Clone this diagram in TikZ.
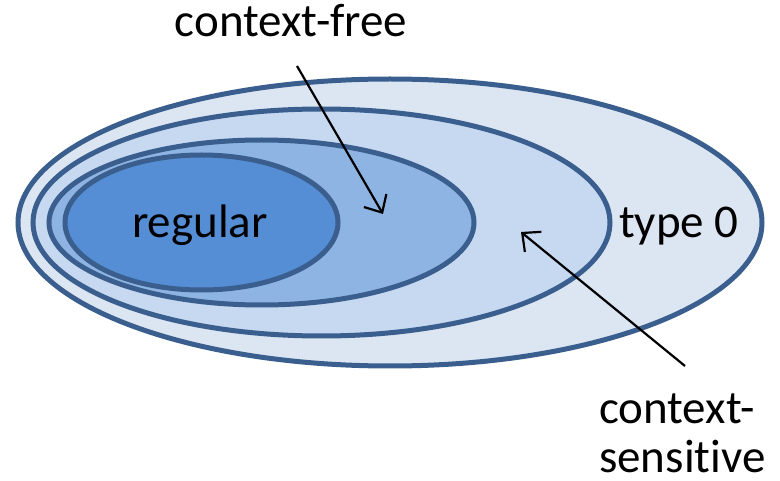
\documentclass[tikz,border=0pt]{standalone}
\usepackage{fontspec}
\setmainfont{Carlito}[Ligatures=NoCommon]
\usetikzlibrary{arrows.meta}
\definecolor{edge}{HTML}{3A5F8E}
\definecolor{fillA}{HTML}{DCE6F2}
\definecolor{fillB}{HTML}{C6D9F1}
\definecolor{fillC}{HTML}{8EB4E3}
\definecolor{fillD}{HTML}{558ED5}
\begin{document}
\begin{tikzpicture}[x=1pt,y=-1pt,
  setline/.style={draw=edge, line width=5pt},
  lbl/.style={font=\fontsize{47}{49}\selectfont, inner sep=0pt, text=black},
  ptr/.style={line width=2.2pt, -{Straight Barb[length=14pt,width=26pt,line width=2.2pt]}}]
\useasboundingbox (0,0) rectangle (780,481);
\path[setline, fill=fillA] (390,222.5) ellipse [x radius=372, y radius=143.5];
\path[setline, fill=fillB] (321.5,222.5) ellipse [x radius=288.5, y radius=113.5];
\path[setline, fill=fillC] (261.5,222.5) ellipse [x radius=212.5, y radius=82.5];
\path[setline, fill=fillD] (201.5,222.5) ellipse [x radius=136.5, y radius=67.5];
\node[lbl, anchor=base] (reg) at (200,238) {regular};
\node[lbl, anchor=base west] (t0) at (619,238) {type 0};
\node[lbl, anchor=base] (cf) at (291,37) {context-free};
\node[lbl, anchor=base west, align=left, text depth=0pt] (cs) at (599,472) {context-\\sensi\kern0pt tive};
\coordinate (cftail) at (297,66);
\coordinate (cftip) at (383,214);
\coordinate (cstail) at (685,366);
\coordinate (cstip) at (521,232);
\draw[ptr] (cftail) -- (cftip);
\draw[ptr] (cstail) -- (cstip);
\end{tikzpicture}
\end{document}
